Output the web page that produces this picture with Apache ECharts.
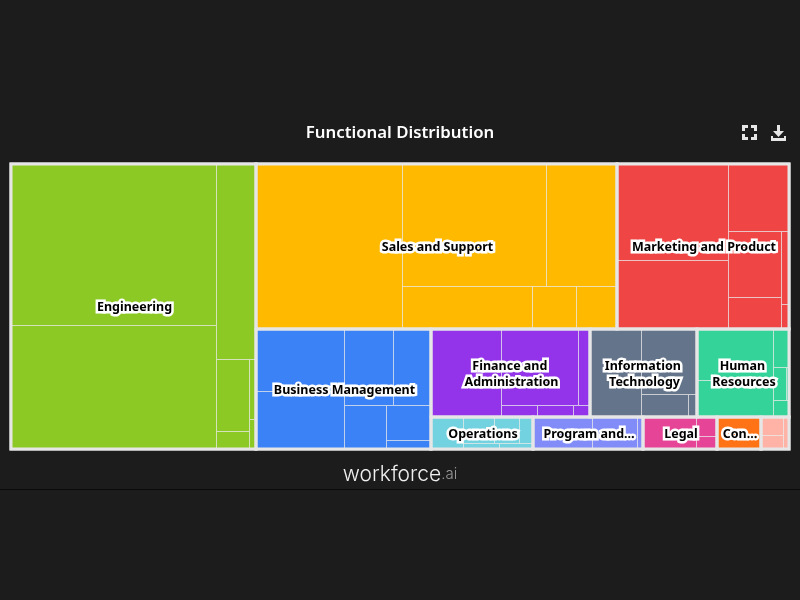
<!DOCTYPE html>
<html>
<head>
<meta charset="utf-8">
<title>Functional Distribution</title>
<style>
    html, body { margin: 0; padding: 0; background: #1c1c1c; }
    #main { width: 800px; height: 600px; }
</style>
<script src="https://cdn.jsdelivr.net/npm/echarts@6/dist/echarts.min.js"></script>
</head>
<body>
<div id="main"></div>
<script>
    var functionNames = ["Engineering", "Sales and Support", "Marketing and Product", "Business Management",
        "Finance and Administration", "Information Technology", "Human Resources", "Operations",
        "Program and Project Management", "Legal", "Consulting", "Other"];
    var functionColors = ["#8cc925", "#ffba00", "#f04545", "#3b82f6", "#9333ea", "#64748b", "#34d399",
        "#72d2df", "#818cf8", "#e64597", "#ff7316", "#ffb3a7"];

    // sub-function sizes, nested the way the tiles split (columns, then rows, then columns...)
    var engineeringValues = [[3311, 2542], [780, [[242, 60], [40, 20]]]];
    var salesValues = [2401, [[1757, 866], [559, 193, 172]]];
    var marketingValues = [[1070, 770], [408, [[350, 170], [58, 20]]]];
    var businessValues = [[543, 512], [[382, 287], [189, [156, 40]]]];
    var financeValues = [620, [[589, 88], [41, 41, 20]]];
    var itValues = [453, [364, [104, 21]]];
    var hrValues = [[385, 280], [63, [44, 10], 28]];
    var operationsValues = [104, [[85, 65, 39], [20, 19]]];
    var programValues = [192, 146, 20];
    var legalValues = [172, [42, 27]];
    var consultingValues = [143];
    var otherValues = [[41, 30], 20];

    var functionValues = [engineeringValues, salesValues, marketingValues, businessValues, financeValues, itValues,
        hrValues, operationsValues, programValues, legalValues, consultingValues, otherValues];

    function sumOf(node) {
        if (!Array.isArray(node)) return node;
        return node.reduce(function(total, child) { return total + sumOf(child); }, 0);
    }

    function total(i) {
        return sumOf(functionValues[i]);
    }

    // even depth splits across x, odd depth across y; leaves come out in reading order
    function sliceDice(node, box, depth, out) {
        if (!Array.isArray(node)) {
            out.push(box);
            return out;
        }
        var sum = sumOf(node);
        var along_x = depth % 2 === 0;
        var pos = along_x ? box[0] : box[1];
        var span = along_x ? box[2] - box[0] : box[3] - box[1];
        node.forEach(function(child) {
            var next = pos + span * sumOf(child) / sum;
            var child_box = along_x ? [pos, box[1], next, box[3]] : [box[0], pos, box[2], next];
            sliceDice(child, child_box, depth + 1, out);
            pos = next;
        });
        return out;
    }

    var functionSplit = [total(0), [
        [total(1), total(2)],
        [total(3), [
            [total(4), total(5), total(6)],
            [total(7), total(8), total(9), total(10), total(11)]
        ]]
    ]];

    var cellBoxes = sliceDice(functionSplit, [0, 0, 1, 1], 0, []);
    var cellRows = cellBoxes.map(function(box, i) { return box.concat(i); });
    var tileRows = [];
    cellBoxes.forEach(function(box, i) {
        sliceDice(functionValues[i], box, 0, []).forEach(function(tile) {
            tileRows.push(tile.concat(i));
        });
    });

    function pixelBox(api) {
        var a = api.coord([api.value(0), api.value(1)]);
        var b = api.coord([api.value(2), api.value(3)]);
        return { x: Math.round(a[0]), y: Math.round(a[1]), w: Math.round(b[0]) - Math.round(a[0]), h: Math.round(b[1]) - Math.round(a[1]) };
    }

    function renderFrame(params, api) {
        var p = pixelBox(api);
        return {
            type: 'rect',
            shape: { x: p.x - 1.5, y: p.y - 1.5, width: p.w + 3, height: p.h + 3 },
            style: { fill: '#e6e6e6' }
        };
    }

    function renderTile(params, api) {
        var p = pixelBox(api);
        return {
            type: 'rect',
            shape: { x: p.x + 0.5, y: p.y + 0.5, width: p.w, height: p.h },
            style: { fill: functionColors[api.value(4)], stroke: 'rgba(235,235,235,0.6)', lineWidth: 1 }
        };
    }

    function renderCellGap(params, api) {
        var p = pixelBox(api);
        return {
            type: 'rect',
            shape: { x: p.x, y: p.y, width: p.w, height: p.h },
            style: { fill: 'none', stroke: '#e6e6e6', lineWidth: 3 }
        };
    }

    function renderLabel(params, api) {
        var p = pixelBox(api);
        if (p.w < 30) return null;
        var single_line = p.h < 40;
        return {
            type: 'text',
            style: {
                text: functionNames[api.value(4)],
                x: p.x + p.w / 2 + 1,
                y: p.y + p.h / 2 + 1,
                align: 'center',
                verticalAlign: 'middle',
                font: 'bold 12.5px "Noto Sans"',
                lineHeight: 16,
                width: single_line ? p.w * 0.86 : p.w - 8,
                overflow: single_line ? 'truncate' : 'break',
                ellipsis: '...',
                fill: '#000000',
                stroke: '#ffffff',
                lineWidth: 5
            }
        };
    }

    function customSeries(rows, renderItem) {
        return {
            type: 'custom',
            data: rows,
            renderItem: renderItem,
            clip: false,
            silent: true,
            animation: false
        };
    }

    function iconPart(points) {
        return { type: 'polygon', shape: { points: points }, style: { fill: '#e6e6e6' } };
    }

    var myChart = echarts.init(document.getElementById('main'));
    myChart.setOption({
        backgroundColor: '#1c1c1c',
        animation: false,
        title: [{
            text: 'Functional Distribution',
            left: 'center',
            top: 120,
            textStyle: { color: '#ffffff', fontFamily: 'Noto Sans', fontWeight: 600, fontSize: 16.8 }
        }, {
            text: '{a|workforce}{b|.ai}',
            left: 'center',
            top: 459,
            textStyle: {
                rich: {
                    a: { color: '#f0f0f0', fontFamily: 'Inter', fontWeight: 300, fontSize: 21 },
                    b: { color: '#9a9a9a', fontFamily: 'Inter', fontWeight: 300, fontSize: 15 }
                }
            }
        }],
        grid: { left: 11, top: 164, width: 778, height: 285, containLabel: false },
        xAxis: { type: 'value', min: 0, max: 1, show: false },
        yAxis: { type: 'value', min: 0, max: 1, inverse: true, show: false },
        series: [
            customSeries(cellRows, renderFrame),
            customSeries(tileRows, renderTile),
            customSeries(cellRows, renderCellGap),
            customSeries(cellRows, renderLabel)
        ],
        graphic: [
            iconPart([[742, 125], [748, 125], [748, 128], [745, 128], [745, 131], [742, 131]]),
            iconPart([[751, 125], [757, 125], [757, 131], [754, 131], [754, 128], [751, 128]]),
            iconPart([[742, 134], [745, 134], [745, 137], [748, 137], [748, 140], [742, 140]]),
            iconPart([[754, 134], [757, 134], [757, 140], [751, 140], [751, 137], [754, 137]]),
            iconPart([[777, 125], [780, 125], [780, 131], [784, 131], [778.5, 137], [773, 131], [777, 131]]),
            iconPart([[771, 136], [773, 136], [773, 138], [784, 138], [784, 136], [786, 136], [786, 141], [771, 141]]),
            {
                type: 'line',
                shape: { x1: 0, y1: 489.5, x2: 800, y2: 489.5 },
                style: { stroke: '#0a0a0a', lineWidth: 1 }
            }
        ]
    });
</script>
</body>
</html>
